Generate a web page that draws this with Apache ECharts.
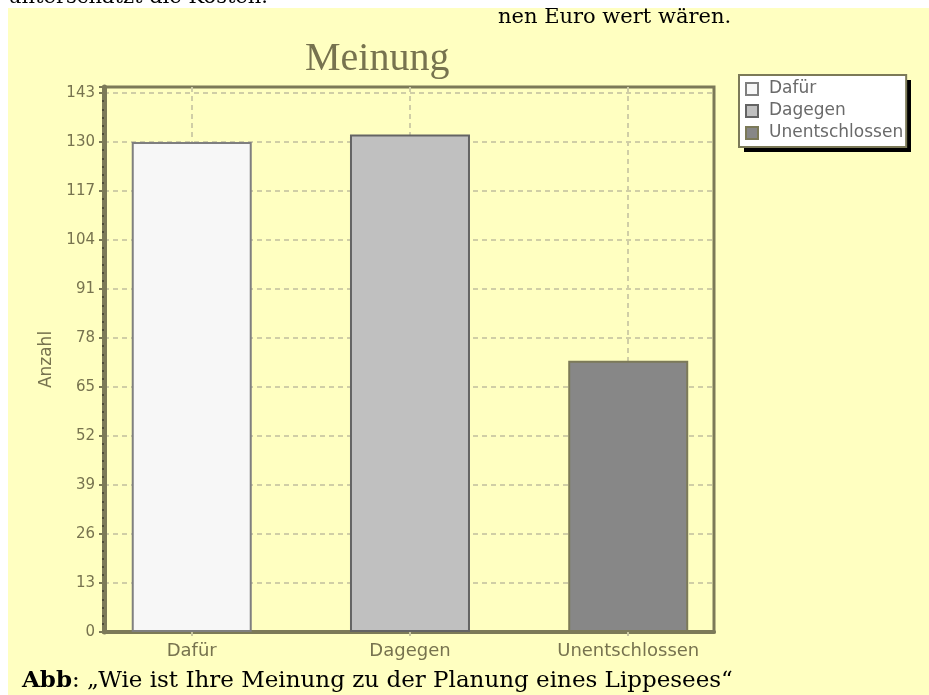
<!DOCTYPE html>
<html>
<head>
<meta charset="utf-8">
<script src="https://cdn.jsdelivr.net/npm/echarts@6/dist/echarts.min.js"></script>
<style>
html,body{margin:0;padding:0;background:#ffffff;}
#wrap{position:relative;width:929px;height:695px;overflow:hidden;background:#ffffff;}
#bg{position:absolute;left:8px;top:8px;right:0;bottom:0;background:#ffffc1;}
#chart{position:absolute;left:0;top:0;width:929px;height:695px;}
</style>
</head>
<body>
<div id="wrap"><div id="bg"></div><div id="chart"></div></div>
<script>
// ---- data ----
const categories = ['Dafür', 'Dagegen', 'Unentschlossen'];
const values = [130, 132, 72];
const barColors = ['#f7f7f7', '#c0c0c0', '#878787'];
const barBorders = ['#7f7f7f', '#646464', '#7c7a58'];
const yTicks = [0, 13, 26, 39, 52, 65, 78, 91, 104, 117, 130, 143];
const xPositions = [0, 1, 2];
const titleText = 'Meinung';
const yName = 'Anzahl';

const olive = '#7c7a58';
const chart = echarts.init(document.getElementById('chart'), null, {renderer: 'canvas'});

const series = categories.map((name, i) => ({
  name: name,
  type: 'bar',
  stack: 'all',
  barWidth: 120,
  z: 3,
  data: [[xPositions[i], values[i]]],
  itemStyle: {color: barColors[i], borderColor: barBorders[i], borderWidth: 2},
  emphasis: {disabled: true}
}));

const option = {
  animation: false,
  backgroundColor: 'transparent',
  title: {
    text: titleText,
    left: 300, top: 34,
    textStyle: {fontFamily: 'Liberation Serif', fontSize: 40, fontWeight: 'normal', color: '#77734f'}
  },
  legend: {
    orient: 'vertical',
    left: 739, top: 75,
    z: 6,
    padding: [5, 3, 5, 6],
    itemGap: 4,
    itemWidth: 12, itemHeight: 12,
    icon: 'rect',
    backgroundColor: '#ffffff',
    borderColor: olive, borderWidth: 2,
    textStyle: {fontFamily: 'DejaVu Sans', fontSize: 17, color: '#6a6a6a', lineHeight: 18, padding: [0, 0, 0, 6]},
    data: categories
  },
  grid: {
    left: 104, right: 215, top: 87, bottom: 63,
    show: true, borderColor: olive, borderWidth: 3, backgroundColor: 'transparent'
  },
  xAxis: {
    type: 'value',
    min: -0.402, max: 2.393,
    axisLine: {show: true, onZero: false, lineStyle: {color: olive, width: 4}},
    axisTick: {show: true, customValues: xPositions, length: 4, lineStyle: {color: '#c9c7a0', width: 2}},
    splitLine: {show: true, lineStyle: {color: '#d0cea6', type: [5, 4], width: 2}},
    axisLabel: {
      customValues: xPositions,
      formatter: v => categories[Math.round(v)],
      margin: 10,
      fontFamily: 'DejaVu Sans', fontSize: 18, color: '#77734f'
    }
  },
  yAxis: {
    type: 'value',
    min: 0, max: 144.6,
    interval: 13,
    name: yName,
    nameLocation: 'middle',
    nameRotate: 90,
    nameGap: 48,
    nameTextStyle: {fontFamily: 'DejaVu Sans', fontSize: 17, color: '#77734f'},
    axisLine: {show: true, onZero: false, lineStyle: {color: olive, width: 5}},
    axisTick: {show: true, length: 5, lineStyle: {color: olive, width: 2}},
    minorTick: {show: true, splitNumber: 6, length: 2, lineStyle: {color: '#4e4c38', width: 2}},
    splitLine: {show: true, showMaxLine: false, lineStyle: {color: '#d0cea6', type: [5, 4], width: 2}},
    axisLabel: {
      customValues: yTicks,
      margin: 9,
      fontFamily: 'DejaVu Sans', fontSize: 15, color: '#77734f'
    }
  },
  graphic: [
    {type: 'rect', z: 1, shape: {x: 744, y: 80, width: 167, height: 72}, style: {fill: '#000000'}, silent: true},
    {type: 'text', x: 268, y: -13, style: {text: 'unterschätzt die Kosten.', align: 'right', verticalAlign: 'top', fontFamily: 'DejaVu Serif', fontSize: 21, fill: '#000000'}},
    {type: 'text', x: 498, y: 7, style: {text: 'nen Euro wert wären.', align: 'left', verticalAlign: 'top', fontFamily: 'DejaVu Serif', fontSize: 21, fill: '#000000'}},
    {type: 'text', x: 22, y: 670, style: {
      text: '{b|Abb}: „Wie ist Ihre Meinung zu der Planung eines Lippesees“',
      align: 'left', verticalAlign: 'top',
      fontFamily: 'DejaVu Serif', fontSize: 23, fill: '#000000',
      rich: {b: {fontFamily: 'DejaVu Serif', fontSize: 23, fontWeight: 'bold', fill: '#000000'}}
    }}
  ],
  series: series
};
chart.setOption(option);
</script>
</body>
</html>
